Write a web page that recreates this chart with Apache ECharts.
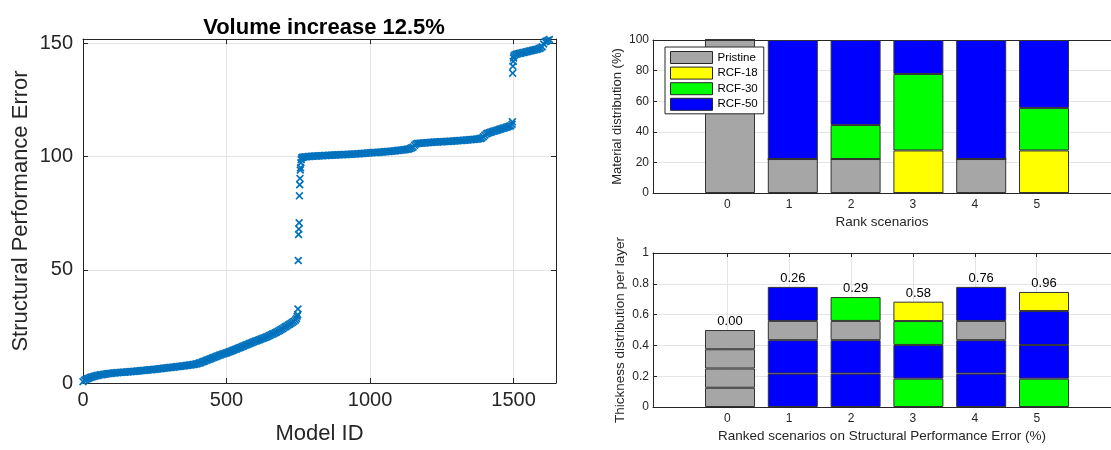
<!DOCTYPE html>
<html>
<head>
<meta charset="utf-8">
<script src="https://cdn.jsdelivr.net/npm/echarts@6/dist/echarts.min.js"></script>
<style>
  html, body { margin: 0; padding: 0; background: #fff; }
  #chart { width: 1111px; height: 450px; }
</style>
</head>
<body>
<div id="chart"></div>
<script>
// left plot: sorted structural performance error, model IDs are the rank index
// the three dense bands are read every 5th model
const bandStep = 5
const lowBandStart = 0
const lowBand = [
  0.6, 1.2, 1.6, 1.9, 2.1, 2.4, 2.6, 2.8, 3.0, 3.15, 3.3, 3.45, 3.6, 3.7, 3.8, 3.9, 4.0, 4.1, 4.2, 4.25,
  4.3, 4.4, 4.45, 4.5, 4.55, 4.6, 4.65, 4.7, 4.75, 4.8, 4.85, 4.9, 4.95, 5.0, 5.05, 5.1, 5.15, 5.2, 5.3, 5.35,
  5.4, 5.5, 5.55, 5.6, 5.65, 5.7, 5.8, 5.85, 5.9, 6.0, 6.05, 6.1, 6.2, 6.3, 6.35, 6.4, 6.5, 6.6, 6.65, 6.7,
  6.8, 6.9, 6.95, 7.0, 7.1, 7.2, 7.25, 7.3, 7.4, 7.5, 7.55, 7.6, 7.7, 7.8, 7.9, 8.0, 8.1, 8.2, 8.3, 8.45,
  8.6, 8.8, 9.0, 9.25, 9.5, 9.75, 10.0, 10.25, 10.5, 10.75, 11.0, 11.25, 11.5, 11.75, 12.0, 12.25, 12.5, 12.7, 12.9, 13.1,
  13.3, 13.55, 13.8, 14.05, 14.3, 14.55, 14.8, 15.05, 15.3, 15.55, 15.8, 16.1, 16.4, 16.65, 16.9, 17.15, 17.4, 17.65, 17.9, 18.2,
  18.5, 18.7, 18.9, 19.15, 19.4, 19.65, 19.9, 20.15, 20.4, 20.7, 21.0, 21.3, 21.6, 21.9, 22.2, 22.55, 22.9, 23.25, 23.6, 24.0,
  24.4, 24.8, 25.2, 25.6, 26.0, 26.4, 26.8, 27.3, 27.8
]
const midBandStart = 765
const midBand = [
  99.8, 99.9, 99.95, 100.0, 100.05, 100.1, 100.15, 100.2, 100.25, 100.3, 100.3, 100.35, 100.4, 100.4, 100.45, 100.5, 100.5, 100.55, 100.6, 100.6,
  100.65, 100.7, 100.7, 100.75, 100.8, 100.8, 100.85, 100.9, 100.9, 100.95, 101.0, 101.0, 101.05, 101.1, 101.1, 101.15, 101.2, 101.2, 101.25, 101.3,
  101.35, 101.4, 101.45, 101.5, 101.55, 101.6, 101.65, 101.7, 101.75, 101.8, 101.8, 101.85, 101.9, 101.95, 102.0, 102.05, 102.1, 102.15, 102.2, 102.25,
  102.3, 102.35, 102.4, 102.5, 102.55, 102.65, 102.7, 102.8, 102.85, 102.95, 103.0, 103.1, 103.2, 103.3, 103.45, 103.6, 103.9, 104.3, 105.0, 105.6,
  105.8, 105.9, 105.95, 106.0, 106.05, 106.1, 106.15, 106.2, 106.25, 106.3, 106.35, 106.4, 106.45, 106.5, 106.5, 106.55, 106.6, 106.6, 106.65, 106.7,
  106.7, 106.75, 106.8, 106.85, 106.85, 106.9, 106.95, 107.0, 107.05, 107.1, 107.15, 107.2, 107.25, 107.3, 107.35, 107.4, 107.45, 107.5, 107.55, 107.6,
  107.7, 107.75, 107.8, 107.9, 108.05, 108.3, 108.8, 109.5, 110.0, 110.4, 110.6, 110.8, 111.0, 111.2, 111.4, 111.6, 111.8, 112.0, 112.2, 112.4,
  112.6, 112.8, 113.0, 113.2, 113.45, 113.7, 114.3
]
const topBandStart = 1505
const topBand = [
  145.0, 145.3, 145.45, 145.6, 145.75, 145.9, 146.05, 146.2, 146.35, 146.5, 146.65, 146.8, 146.95, 147.1, 147.25, 147.4, 147.6, 147.8, 148.1, 148.6,
  149.8, 150.8, 151.1, 151.4, 151.8, 152.2, 152.6, 153.0, 153.4
]
// isolated points in the jumps
const jumpIds = [744, 746, 748, 749, 750, 751, 752, 753, 754, 755, 756, 757, 758, 759, 760, 762, 1496, 1497, 1498, 1499, 1500, 1501]
const jumpErrors = [28.5, 29.5, 30.2, 32.7, 54.1, 65.6, 68.0, 70.8, 82.7, 87.6, 90.4, 94.1, 95.1, 97.3, 98.7, 99.4, 115.4, 136.9, 140.0, 142.1, 143.6, 144.5]
const leftXTicks = [0, 500, 1000, 1500]
const leftYTicks = [0, 50, 100, 150]

// right plots
const scenarios = ['0', '1', '2', '3', '4', '5']
const scenarioTicks = [0, 1, 2, 3, 4, 5]
const materials = ['Pristine', 'RCF-18', 'RCF-30', 'RCF-50']
const materialColors = { 'Pristine': '#a6a6a6', 'RCF-18': '#ffff00', 'RCF-30': '#00ff00', 'RCF-50': '#0000ff' }

// material distribution (%) per scenario
const pristinePct = [100, 22.2, 22.2, 0, 22.2, 0]
const rcf18Pct = [0, 0, 0, 27.8, 0, 27.8]
const rcf30Pct = [0, 0, 22.2, 50, 0, 27.8]
const rcf50Pct = [0, 77.8, 55.6, 22.2, 77.8, 44.4]

// thickness per layer (bottom to top) and its material
const layer1Thick = [0.125, 0.217, 0.217, 0.184, 0.217, 0.184]
const layer2Thick = [0.125, 0.217, 0.217, 0.219, 0.217, 0.219]
const layer3Thick = [0.125, 0.125, 0.125, 0.155, 0.125, 0.220]
const layer4Thick = [0.125, 0.221, 0.155, 0.126, 0.221, 0.124]
const layer1Mat = ['Pristine', 'RCF-50', 'RCF-50', 'RCF-30', 'RCF-50', 'RCF-30']
const layer2Mat = ['Pristine', 'RCF-50', 'RCF-50', 'RCF-50', 'RCF-50', 'RCF-50']
const layer3Mat = ['Pristine', 'Pristine', 'Pristine', 'RCF-30', 'Pristine', 'RCF-50']
const layer4Mat = ['Pristine', 'RCF-50', 'RCF-30', 'RCF-18', 'RCF-50', 'RCF-18']
const scenarioErrors = [0.00, 0.26, 0.29, 0.58, 0.76, 0.96]

const FONT = '"Liberation Sans", Arial, Helvetica, sans-serif'
const AXC = '#262626'
const GRIDC = '#e3e3e3'
const CROSS = 'path://M0,1.5L1.5,0L5,3.5L8.5,0L10,1.5L6.5,5L10,8.5L8.5,10L5,6.5L1.5,10L0,8.5L3.5,5Z'

const chart = echarts.init(document.getElementById('chart'))

const bandPoints = (start, arr) => arr.map((v, i) => [start + i * bandStep, v])
const scatterPoints = [
  ...bandPoints(lowBandStart, lowBand),
  ...bandPoints(midBandStart, midBand),
  ...bandPoints(topBandStart, topBand),
  ...jumpIds.map((id, i) => [id, jumpErrors[i]])
]

const pctSeries = [pristinePct, rcf18Pct, rcf30Pct, rcf50Pct].map((arr, i) => ({
  name: materials[i],
  type: 'bar',
  xAxisIndex: 6,
  yAxisIndex: 4,
  stack: 'pct',
  barWidth: 50,
  itemStyle: { color: materialColors[materials[i]], borderColor: '#333', borderWidth: 1 },
  data: arr
}))

const layers = [
  [layer1Thick, layer1Mat],
  [layer2Thick, layer2Mat],
  [layer3Thick, layer3Mat],
  [layer4Thick, layer4Mat]
]
const thickSeries = layers.map((l, i) => ({
  name: 'layer' + (i + 1),
  type: 'bar',
  xAxisIndex: 7,
  yAxisIndex: 5,
  stack: 'thick',
  barWidth: 50,
  data: l[0].map((v, j) => ({
    value: v,
    itemStyle: { color: materialColors[l[1][j]], borderColor: '#333', borderWidth: 1 }
  })),
  label: i === 3 ? {
    show: true,
    position: 'top',
    distance: 2,
    fontFamily: FONT,
    fontSize: 13,
    color: '#000',
    formatter: (p) => scenarioErrors[p.dataIndex].toFixed(2)
  } : { show: false }
}))

// visible frame axes for the right plots (limits -1.2 .. 6.2 like the original)
const frameX = (grid, name) => ([
  {
    type: 'value', gridIndex: grid, min: -1.2, max: 6.2,
    name: name, nameLocation: 'middle', nameGap: 22,
    nameTextStyle: { fontFamily: FONT, fontSize: 13.5, color: AXC },
    axisLine: { onZero: false, lineStyle: { color: AXC } },
    axisTick: { inside: true, length: 4, customValues: scenarioTicks, lineStyle: { color: AXC } },
    axisLabel: { customValues: scenarioTicks, margin: 6, fontFamily: FONT, fontSize: 12, color: AXC },
    splitLine: { show: true, lineStyle: { color: GRIDC } }
  },
  {
    type: 'value', gridIndex: grid, position: 'top', min: -1.2, max: 6.2,
    axisLine: { onZero: false, lineStyle: { color: AXC } },
    axisTick: { inside: true, length: 4, customValues: scenarioTicks, lineStyle: { color: AXC } },
    axisLabel: { show: false },
    splitLine: { show: false }
  }
])

const hiddenCat = (grid) => ({
  type: 'category', gridIndex: grid, data: scenarios, show: false
})

const option = {
  animation: false,
  title: {
    text: 'Volume increase 12.5%',
    left: 319, top: 12, textAlign: 'center',
    textStyle: { fontFamily: FONT, fontSize: 22, fontWeight: 'bold', color: '#000' }
  },
  legend: {
    data: materials,
    orient: 'vertical',
    left: 665, top: 47,
    padding: [4, 6, 3, 5],
    itemGap: 2.6,
    itemWidth: 42,
    itemHeight: 12,
    icon: 'rect',
    backgroundColor: '#fff',
    borderColor: AXC,
    borderWidth: 1,
    itemStyle: { borderColor: AXC, borderWidth: 1 },
    textStyle: { fontFamily: FONT, fontSize: 11.5, color: '#000' }
  },
  grid: [
    { left: 83, right: 555, top: 39, bottom: 56 },
    { left: 653, right: -9, top: 40, bottom: 257 },
    { left: 653, right: -9, top: 253, bottom: 43 },
    { left: 698.6, right: 35.6, top: 40, bottom: 257 },
    { left: 698.6, right: 35.6, top: 253, bottom: 43 }
  ],
  xAxis: [
    {
      type: 'value', gridIndex: 0, min: 0, max: 1648,
      name: 'Model ID', nameLocation: 'middle', nameGap: 40,
      nameTextStyle: { fontFamily: FONT, fontSize: 22, color: AXC },
      axisLine: { onZero: false, lineStyle: { color: AXC } },
      axisTick: { inside: true, length: 5, customValues: leftXTicks, lineStyle: { color: AXC } },
      axisLabel: { customValues: leftXTicks, margin: 7, fontFamily: FONT, fontSize: 20, color: AXC, formatter: (v) => String(v) },
      splitLine: { show: true, lineStyle: { color: GRIDC } }
    },
    {
      type: 'value', gridIndex: 0, position: 'top', min: 0, max: 1648,
      axisLine: { onZero: false, lineStyle: { color: AXC } },
      axisTick: { inside: true, length: 5, customValues: leftXTicks, lineStyle: { color: AXC } },
      axisLabel: { show: false },
      splitLine: { show: false }
    },
    ...frameX(1, 'Rank scenarios'),
    ...frameX(2, 'Ranked scenarios on Structural Performance Error (%)'),
    hiddenCat(3),
    hiddenCat(4)
  ],
  yAxis: [
    {
      type: 'value', gridIndex: 0, min: 0, max: 152,
      name: 'Structural Performance Error', nameLocation: 'middle', nameGap: 51,
      nameTextStyle: { fontFamily: FONT, fontSize: 22, color: AXC },
      axisLine: { show: true, onZero: false, lineStyle: { color: AXC } },
      axisTick: { show: true, inside: true, length: 5, customValues: leftYTicks, lineStyle: { color: AXC } },
      axisLabel: { customValues: leftYTicks, margin: 10, fontFamily: FONT, fontSize: 20, color: AXC },
      splitLine: { show: true, lineStyle: { color: GRIDC } }
    },
    {
      type: 'value', gridIndex: 0, position: 'right', min: 0, max: 152,
      axisLine: { show: true, onZero: false, lineStyle: { color: AXC } },
      axisTick: { show: true, inside: true, length: 5, customValues: leftYTicks, lineStyle: { color: AXC } },
      axisLabel: { show: false },
      splitLine: { show: false }
    },
    {
      type: 'value', gridIndex: 1, min: 0, max: 100, interval: 20,
      name: 'Material distribution (%)', nameLocation: 'middle', nameGap: 29,
      nameTextStyle: { fontFamily: FONT, fontSize: 13, color: AXC },
      axisLine: { show: true, onZero: false, lineStyle: { color: AXC } },
      axisTick: { show: true, inside: true, length: 4, lineStyle: { color: AXC } },
      axisLabel: { margin: 4, fontFamily: FONT, fontSize: 12, color: AXC },
      splitLine: { show: true, lineStyle: { color: GRIDC } }
    },
    {
      type: 'value', gridIndex: 2, min: 0, max: 1, interval: 0.2,
      name: 'Thickness distribution per layer', nameLocation: 'middle', nameGap: 26,
      nameTextStyle: { fontFamily: FONT, fontSize: 13.5, color: AXC },
      axisLine: { show: true, onZero: false, lineStyle: { color: AXC } },
      axisTick: { show: true, inside: true, length: 4, lineStyle: { color: AXC } },
      axisLabel: { margin: 4, fontFamily: FONT, fontSize: 12, color: AXC },
      splitLine: { show: true, lineStyle: { color: GRIDC } }
    },
    { type: 'value', gridIndex: 3, min: 0, max: 100, show: false, splitLine: { show: false } },
    { type: 'value', gridIndex: 4, min: 0, max: 1, show: false, splitLine: { show: false } }
  ],
  series: [
    {
      type: 'scatter',
      xAxisIndex: 0,
      yAxisIndex: 0,
      symbol: CROSS,
      symbolSize: 8,
      itemStyle: { color: '#0072bd', opacity: 1 },
      data: scatterPoints
    },
    ...pctSeries,
    ...thickSeries
  ]
}

chart.setOption(option)
</script>
</body>
</html>
